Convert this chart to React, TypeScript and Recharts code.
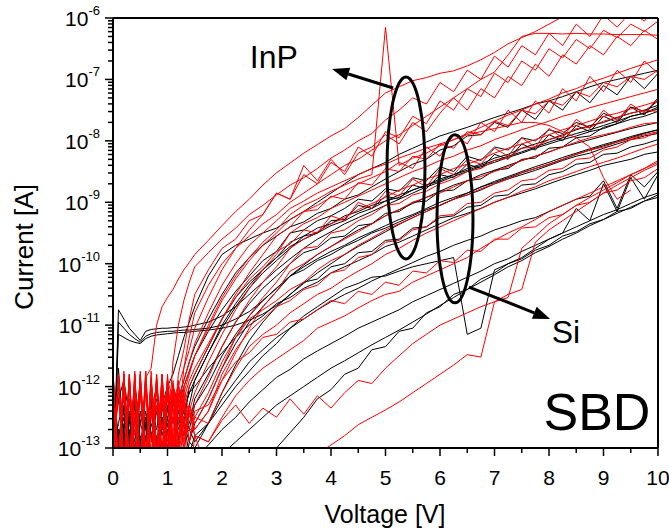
import React from 'react'
import { LineChart, Line, XAxis, YAxis, ReferenceDot, ReferenceLine } from 'recharts'

// Voltage grid (V): fine steps in the noisy low-bias part, 0.25 V after that
const VOLTS = [
  0, 0.1, 0.2, 0.3, 0.4, 0.5, 0.6, 0.7, 0.8, 0.9, 1, 1.1, 1.2, 1.3, 1.4, 1.5,
  1.75, 2, 2.25, 2.5, 2.75, 3, 3.25, 3.5, 3.75, 4, 4.25, 4.5, 4.75, 5, 5.25, 5.5, 5.75,
  6, 6.25, 6.5, 6.75, 7, 7.25, 7.5, 7.75, 8, 8.25, 8.5, 8.75, 9, 9.25, 9.5, 9.75, 10,
]

// InP devices, log10(I [A])
const inp01 = [-11.8,-13.5,-11.9,-13.6,-12.0,-13.3,-11.85,-11.7,-11.0,-10.7,-10.55,-10.42,-10.25,-10.1,-9.98,-9.85,
  -9.62,-9.38,-9.15,-8.95,-8.72,-8.52,-8.36,-8.2,-8.06,-7.92,-7.8,-7.62,-7.42,-7.22,-7.12,-7.02,-6.97,-6.9,-6.86,-6.78,-6.68,-6.56,-6.42,-6.32,-6.22,-6.1,-5.98,-5.9,-5.85,-5.8,-5.75,-5.7,-5.65,-5.6]
const inp02 = [-13.6,-11.8,-13.4,-11.9,-13.7,-11.75,-13.2,-11.9,-13.5,-11.8,-12.9,-11.6,-11.0,-10.6,-10.3,-10.05,
  -9.82,-9.6,-9.42,-9.2,-9.05,-8.88,-8.72,-8.6,-8.45,-8.28,-8.15,-8.0,-7.88,-7.66,-7.5,-7.3,-7.4,-7.05,-7.2,-6.85,-7.0,-6.62,-6.8,-6.45,-6.6,-6.25,-6.45,-6.1,-6.3,-5.95,-6.15,-5.9,-6.05,-5.8]
const inp03 = [-11.9,-13.3,-11.75,-13.8,-11.85,-13.4,-11.9,-13.6,-11.8,-13.0,-11.9,-12.8,-11.8,-11.4,-10.9,-10.5,
  -10.1,-9.75,-9.6,-9.3,-9.2,-8.85,-8.95,-8.55,-8.7,-8.35,-8.5,-8.1,-8.25,-7.85,-7.95,-7.6,-7.72,-7.35,-7.5,-7.15,-7.28,-6.9,-7.05,-6.7,-6.85,-6.5,-6.65,-6.35,-6.5,-6.2,-6.32,-6.1,-6.22,-6.05]
const inp04 = [-13.4,-11.85,-13.2,-11.8,-13.9,-11.9,-13.4,-11.75,-13.6,-12.0,-13.1,-11.9,-12.6,-11.7,-11.2,-10.8,
  -10.35,-10.0,-9.75,-9.55,-9.35,-9.2,-9.0,-8.85,-8.7,-8.55,-8.4,-8.3,-8.15,-8.0,-7.9,-7.75,-7.6,-7.45,-7.3,-7.15,-7.0,-6.88,-6.6,-6.3,-6.25,-6.25,-6.26,-6.25,-6.26,-6.26,-6.27,-6.27,-6.27,-6.28]
const inp05 = [-11.75,-13.7,-11.9,-13.3,-11.8,-13.6,-11.95,-13.5,-11.85,-13.2,-11.9,-13.0,-12.6,-12.0,-11.75,-11.5,
  -11.0,-10.55,-10.2,-9.9,-9.65,-9.45,-9.2,-9.05,-8.95,-8.82,-8.72,-8.62,-8.55,-6.15,-8.4,-8.28,-8.2,-8.08,-7.98,-7.88,-7.78,-7.68,-7.58,-7.5,-7.4,-7.32,-7.22,-7.15,-7.05,-6.98,-6.9,-6.82,-6.75,-6.68]
const inp06 = [-13.2,-11.9,-13.5,-11.8,-13.3,-11.85,-13.8,-11.9,-13.0,-11.8,-13.4,-12.0,-12.8,-12.2,-11.9,-11.7,
  -11.3,-10.9,-10.5,-10.15,-9.85,-9.55,-9.4,-9.15,-9.12,-8.9,-8.95,-8.68,-8.72,-8.45,-8.5,-8.25,-8.3,-8.05,-8.12,-7.85,-7.9,-7.68,-7.75,-7.5,-7.56,-7.35,-7.42,-7.2,-7.28,-7.05,-7.12,-6.95,-7.0,-6.85]
const inp07 = [-11.85,-13.4,-11.8,-13.7,-11.9,-13.2,-11.75,-13.5,-11.9,-13.3,-11.85,-13.1,-12.0,-12.6,-12.4,-12.1,
  -11.6,-11.15,-10.75,-10.4,-10.1,-9.85,-9.5,-9.35,-9.25,-9.1,-9.0,-8.9,-8.8,-8.7,-8.6,-8.5,-8.42,-8.32,-8.25,-8.15,-8.08,-7.98,-7.9,-7.82,-7.75,-7.68,-7.6,-7.54,-7.46,-7.4,-7.34,-7.28,-7.22,-7.16]
const inp08 = [-13.5,-11.8,-13.3,-11.95,-13.6,-11.85,-13.1,-11.9,-13.7,-11.8,-13.2,-11.95,-13.0,-12.0,-12.5,-12.3,
  -11.85,-11.35,-10.95,-10.6,-10.3,-10.05,-9.75,-9.6,-9.48,-9.35,-9.25,-9.12,-9.02,-8.92,-8.8,-8.72,-8.62,-8.55,-8.45,-8.38,-8.3,-8.2,-8.12,-8.05,-7.98,-7.9,-7.82,-7.75,-7.68,-7.6,-7.55,-7.48,-7.42,-7.35]
const inp09 = [-11.8,-13.6,-11.85,-13.2,-11.75,-13.5,-11.9,-13.4,-11.8,-13.8,-12.0,-13.1,-11.9,-12.8,-12.3,-12.5,
  -12.1,-11.6,-11.2,-10.85,-10.55,-10.3,-10.0,-9.75,-9.72,-9.5,-9.45,-9.3,-9.2,-9.05,-9.02,-8.88,-8.82,-8.7,-8.62,-8.5,-8.45,-8.32,-8.28,-8.12,-8.1,-7.98,-7.92,-7.8,-7.78,-7.68,-7.62,-7.55,-7.5,-7.52]
const inp10 = [-13.3,-11.9,-13.6,-11.8,-13.4,-11.95,-13.7,-11.85,-13.2,-11.9,-13.5,-12.0,-13.0,-12.1,-12.7,-12.7,
  -12.4,-11.9,-11.45,-11.05,-10.7,-10.45,-10.12,-10.0,-9.85,-9.72,-9.6,-9.48,-9.35,-9.22,-9.12,-9.0,-8.92,-8.85,-8.75,-8.65,-8.58,-8.5,-8.42,-8.32,-8.25,-8.18,-8.1,-8.02,-7.95,-7.9,-7.85,-7.78,-7.72,-7.7]
const inp11 = [-11.9,-13.2,-11.8,-13.5,-11.9,-13.8,-11.85,-13.3,-11.95,-13.6,-12.0,-13.2,-12.1,-12.9,-12.4,-12.6,
  -12.2,-11.7,-11.2,-10.9,-10.75,-10.6,-10.42,-10.3,-10.1,-9.95,-9.85,-9.7,-9.58,-9.45,-9.35,-9.25,-9.15,-9.05,-8.95,-8.88,-8.78,-8.7,-8.62,-8.52,-8.45,-8.38,-8.3,-8.22,-8.15,-8.1,-8.02,-7.96,-7.9,-7.85]
const inp12 = [-13.7,-11.85,-13.4,-11.9,-13.3,-11.8,-13.6,-11.9,-13.5,-12.0,-13.4,-12.1,-13.1,-12.3,-12.9,-12.5,
  -12.6,-12.1,-11.7,-11.35,-11.15,-11.0,-10.8,-10.65,-10.5,-10.4,-10.25,-10.12,-10.0,-9.85,-9.75,-9.62,-9.5,-9.4,-9.3,-9.2,-9.1,-9.0,-8.92,-8.82,-8.75,-8.65,-8.58,-8.5,-8.42,-8.35,-8.28,-8.2,-8.12,-8.05]
const inp13 = [-11.85,-13.5,-11.9,-13.4,-11.8,-13.7,-11.95,-13.2,-11.9,-13.5,-12.1,-13.3,-12.2,-13.0,-12.4,-12.8,
  -12.9,-12.5,-12.15,-11.9,-11.7,-11.55,-11.4,-11.25,-11.05,-10.95,-10.85,-10.72,-10.6,-10.5,-10.45,-10.3,-10.2,-10.1,-10.0,-9.9,-9.75,-9.62,-9.5,-9.4,-9.28,-9.15,-9.05,-8.95,-8.85,-8.75,-8.65,-8.55,-8.45,-8.35]
const inp14 = [-13.3,-11.9,-13.6,-11.85,-13.5,-11.9,-13.8,-12.0,-13.4,-12.1,-13.6,-12.3,-13.5,-12.5,-13.6,-12.8,
  -13.4,-13.6,-13.5,-13.8,-13.6,-13.5,-13.4,-13.3,-13.1,-12.95,-12.8,-12.62,-12.5,-12.38,-12.25,-12.1,-11.95,-11.8,-11.65,-11.48,-11.52,-10.62,-10.5,-10.42,-9.65,-9.45,-9.3,-9.15,-9.0,-8.85,-8.72,-8.6,-8.48,-8.38]
const inp15 = [-11.9,-13.6,-11.8,-13.4,-11.95,-13.3,-11.85,-13.7,-12.0,-13.2,-12.1,-13.5,-12.2,-13.1,-12.4,-12.8,
  -12.9,-12.55,-12.3,-12.6,-12.35,-12.5,-12.2,-12.45,-12.15,-12.35,-12.1,-11.9,-11.95,-11.7,-11.5,-11.3,-11.15,-11.0,-10.9,-10.8,-10.7,-10.62,-10.55,-9.75,-9.55,-9.35,-9.2,-9.05,-8.92,-8.8,-8.68,-8.55,-8.45,-8.32]
const inp16 = [-13.4,-11.8,-13.7,-11.9,-13.2,-11.85,-13.5,-11.9,-13.3,-12.0,-13.6,-12.0,-13.1,-12.2,-12.9,-12.4,
  -12.3,-11.9,-11.6,-11.45,-11.2,-11.15,-10.95,-10.9,-10.75,-10.6,-10.65,-10.45,-10.5,-10.3,-10.35,-10.12,-10.15,-9.95,-9.98,-9.78,-9.8,-9.6,-9.6,-9.42,-9.4,-9.25,-9.2,-9.05,-9.0,-8.85,-8.8,-8.65,-8.6,-8.45]
const inp17 = [-11.95,-13.3,-11.8,-13.6,-11.9,-13.5,-11.75,-13.2,-11.9,-13.4,-11.8,-12.9,-12.2,-11.9,-11.6,-11.3,
  -10.8,-10.35,-10.0,-9.7,-9.5,-9.3,-9.1,-8.98,-8.85,-8.75,-8.65,-8.55,-8.45,-8.38,-8.28,-8.2,-8.12,-8.05,-7.98,-7.9,-7.85,-7.8,-7.75,-7.7,-7.7,-7.75,-7.85,-7.95,-8.1,-8.6,-8.95,-8.8,null,null]
const inp18 = [-13.5,-11.9,-13.3,-11.85,-13.6,-11.8,-13.4,-11.9,-13.1,-11.85,-13.3,-12.0,-12.4,-12.1,-11.8,-11.5,
  -11.05,-10.6,-10.25,-9.95,-9.7,-9.5,-9.28,-9.15,-9.05,-8.92,-8.82,-8.7,-8.6,-8.5,-8.35,-8.45,-8.1,-8.25,-7.9,-8.05,-7.7,-7.85,-7.5,-7.7,-7.35,-7.55,-7.15,-7.35,-6.95,-7.2,-6.85,-7.05,-6.7,-6.9]
const inp19 = [-12.2,-13.4,-11.95,-13.1,-12.4,-13.6,-12.0,-12.9,-12.3,-13.3,-12.1,-12.6,-12.0,-12.3,-12.0,-11.8,
  -11.35,-10.9,-10.55,-10.25,-10.05,-9.8,-9.68,-9.45,-9.5,-9.22,-9.3,-9.0,-9.1,-8.82,-8.9,-8.62,-8.75,-8.45,-8.55,-8.3,-8.38,-8.12,-8.25,-7.95,-8.1,-7.8,-7.95,-7.65,-7.8,-7.5,-7.68,-7.4,-7.55,-7.3]
const inp20 = [-13.1,-12.0,-13.5,-12.2,-12.8,-11.9,-13.2,-12.4,-12.0,-12.7,-11.9,-12.2,-12.0,-11.7,-11.4,-11.05,
  -10.55,-10.1,-9.75,-9.45,-9.2,-8.85,-8.95,-8.4,-8.65,-8.3,-8.55,-8.2,-8.1,-7.9,-8.05,-7.7,-7.85,-7.55,-7.3,-7.5,-7.15,-7.3,-6.95,-7.1,-6.75,-6.95,-6.6,-6.75,-6.45,-6.6,-6.3,-6.45,-6.2,-6.35]
const inp21 = [-12.6,-13.2,-12.0,-13.7,-12.5,-12.1,-13.0,-12.4,-13.4,-12.2,-12.8,-12.5,-13.1,-12.6,-12.3,-12.7,
  -12.4,-11.8,-11.4,-11.1,-10.9,-10.7,-10.6,-10.42,-10.35,-10.15,-10.1,-9.9,-9.85,-9.65,-9.62,-9.45,-9.4,-9.22,-9.2,-9.02,-9.0,-8.85,-8.8,-8.65,-8.62,-8.48,-8.45,-8.3,-8.28,-8.15,-8.1,-7.98,-7.95,-7.85]

// Si devices, log10(I [A])
const si00 = [-12.9,-12.2,-11.9,-12.5,-13.2,-12.1,-12.7,-12.4,-13.0,-12.3,-12.0,-11.8,-11.5,-11.2,-10.95,-10.7,
  -10.2,-9.85,-9.7,-9.6,-9.5,-9.42,-9.28,-9.15,-9.0,-8.85,-8.7,-8.55,-8.45,-8.35,-8.22,-8.12,-8.02,-7.92,-7.85,-7.78,-7.7,-7.62,-7.55,-7.48,-7.4,-7.35,-7.28,-7.2,-7.12,-7.05,-7.0,-6.95,-6.9,-6.85]
const si01 = [-13.6,-10.75,-10.9,-11.05,-11.15,-11.25,-11.1,-11.07,-11.06,-11.05,-11.05,-11.04,-11.04,-11.03,-11.02,-11.0,
  -10.95,-10.85,-10.7,-10.5,-10.3,-10.1,-9.92,-9.75,-9.6,-9.48,-9.35,-9.25,-9.15,-9.05,-8.95,-8.85,-8.75,-8.67,-8.58,-8.5,-8.42,-8.35,-8.27,-8.2,-8.12,-8.05,-7.98,-7.92,-7.85,-7.8,-7.72,-7.65,-7.6,-7.52]
const si02 = [-13.8,-10.95,-11.05,-11.15,-11.22,-11.28,-11.18,-11.14,-11.12,-11.11,-11.1,-11.1,-11.09,-11.08,-11.08,-11.07,
  -11.05,-11.0,-10.9,-10.78,-10.6,-10.4,-10.2,-10.02,-9.85,-9.72,-9.58,-9.45,-9.35,-9.22,-9.12,-9.02,-8.92,-8.82,-8.72,-8.65,-8.55,-8.48,-8.4,-8.32,-8.25,-8.18,-8.1,-8.04,-7.98,-7.92,-7.86,-7.8,-7.75,-7.7]
const si03 = [-13.5,-11.15,-11.2,-11.25,-11.28,-11.3,-11.22,-11.18,-11.16,-11.15,-11.14,-11.13,-11.12,-11.12,-11.11,-11.1,
  -11.08,-11.05,-11.0,-10.92,-10.82,-10.68,-10.5,-10.32,-10.15,-10.0,-9.85,-9.72,-9.6,-9.48,-9.36,-9.25,-9.15,-9.05,-8.95,-8.85,-8.75,-8.66,-8.58,-8.5,-8.42,-8.35,-8.27,-8.2,-8.13,-8.06,-8.0,-7.93,-7.87,-7.82]
const si04 = [-12.5,-13.1,-12.0,-12.8,-12.3,-13.4,-12.6,-12.2,-12.9,-12.4,-12.1,-12.6,-12.3,-12.0,-11.75,-11.5,
  -11.1,-10.75,-10.45,-10.2,-9.95,-9.8,-9.5,-9.45,-9.3,-9.22,-9.1,-8.95,-8.98,-8.78,-8.82,-8.6,-8.65,-8.42,-8.5,-8.25,-8.32,-8.1,-8.15,-7.95,-8.0,-7.82,-7.88,-7.7,-7.78,-7.55,-7.65,-7.45,-7.52,-7.35]
const si05 = [-13.0,-11.7,-12.9,-12.2,-13.3,-12.6,-12.1,-12.8,-12.4,-13.1,-12.5,-12.2,-12.6,-12.4,-12.1,-11.9,
  -11.45,-11.0,-10.65,-10.35,-10.1,-9.9,-9.65,-9.55,-9.42,-9.35,-9.22,-9.15,-9.05,-8.98,-8.88,-8.8,-8.72,-8.65,-8.55,-8.48,-8.4,-8.32,-8.25,-8.18,-8.1,-8.02,-7.95,-7.88,-7.82,-7.75,-7.68,-7.6,-7.55,-7.48]
const si06 = [-12.7,-12.2,-13.0,-12.5,-12.1,-12.9,-13.3,-12.4,-12.0,-12.7,-12.3,-12.9,-12.4,-12.5,-12.6,-12.2,
  -11.8,-11.35,-10.95,-10.65,-10.4,-10.2,-10.0,-9.82,-9.75,-9.58,-9.55,-9.38,-9.35,-9.18,-9.15,-9.0,-8.98,-8.82,-8.8,-8.65,-8.62,-8.48,-8.45,-8.3,-8.28,-8.12,-8.1,-7.95,-7.92,-7.78,-7.72,-7.6,-7.55,-7.45]
const si07 = [-11.8,-12.9,-12.5,-13.2,-12.0,-12.6,-12.9,-12.3,-12.7,-12.2,-13.0,-12.5,-12.8,-12.6,-12.9,-12.6,
  -12.2,-11.7,-11.3,-10.95,-10.7,-10.45,-10.2,-10.05,-9.92,-9.8,-9.7,-9.58,-9.48,-9.38,-9.28,-9.2,-9.1,-9.0,-8.92,-8.85,-8.75,-8.68,-8.6,-8.52,-8.45,-8.38,-8.3,-8.22,-8.15,-8.08,-8.02,-7.95,-7.88,-7.82]
const si08 = [-13.1,-12.6,-12.2,-12.9,-12.5,-13.0,-12.4,-12.8,-13.3,-12.6,-12.3,-12.9,-12.5,-12.8,-12.7,-12.9,
  -12.6,-12.1,-11.65,-11.25,-10.95,-10.7,-10.5,-10.3,-10.25,-10.05,-10.0,-9.82,-9.8,-9.62,-9.6,-9.42,-9.4,-9.25,-9.22,-9.08,-9.05,-8.9,-8.88,-8.72,-8.7,-8.55,-8.5,-8.38,-8.35,-8.22,-8.2,-8.1,-8.05,-7.98]
const si09 = [-13.4,-12.8,-13.1,-12.5,-13.5,-12.9,-12.6,-13.2,-12.8,-13.0,-12.7,-13.3,-12.9,-12.6,-13.1,-12.8,
  -12.6,-12.3,-12.0,-11.75,-11.5,-11.3,-11.05,-10.85,-10.7,-10.55,-10.4,-10.32,-10.22,-10.2,-10.12,-10.05,-10.0,-9.95,-9.9,-11.15,-11.05,-10.1,-10.0,-9.9,-9.75,-9.6,-9.5,-9.1,-9.3,-8.7,-9.15,-8.6,-8.95,-8.55]
const si10 = [-12.9,-13.4,-12.6,-13.1,-12.7,-13.5,-13.0,-12.8,-13.3,-12.9,-13.6,-13.1,-12.9,-13.4,-13.0,-13.2,
  -12.95,-12.7,-12.5,-12.25,-12.05,-11.85,-11.72,-11.55,-11.42,-11.3,-11.18,-11.05,-10.95,-10.85,-10.75,-10.62,-10.52,-10.42,-10.32,-10.22,-10.12,-10.0,-9.92,-9.8,-9.7,-9.6,-9.5,-9.4,-9.3,-9.2,-9.12,-9.02,-8.92,-8.85]
const si11 = [-13.6,-13.0,-13.4,-12.9,-13.5,-13.1,-13.7,-13.2,-13.5,-13.0,-13.6,-13.3,-13.5,-13.2,-13.6,-13.4,
  -13.3,-13.1,-12.9,-12.7,-12.5,-12.3,-12.15,-12.0,-11.85,-11.7,-11.58,-11.45,-11.32,-11.2,-11.08,-10.95,-10.82,-10.68,-10.55,-10.42,-10.3,-10.18,-10.05,-9.95,-9.82,-9.72,-9.6,-9.5,-9.38,-9.28,-9.18,-9.08,-8.98,-8.88]
const si12 = [-13.8,-13.5,-13.9,-13.4,-13.7,-13.6,-13.9,-13.5,-13.8,-13.6,-13.9,-13.5,-13.7,-13.8,-13.6,-13.9,
  -13.8,-13.9,-13.7,-13.5,-13.3,-13.0,-12.75,-12.5,-12.2,-12.05,-11.8,-11.7,-11.4,-11.35,-11.1,-11.05,-10.8,-10.7,-10.5,-10.42,-10.25,-10.15,-10.0,-9.92,-9.78,-9.7,-9.55,-9.48,-9.35,-9.28,-9.15,-9.1,-8.98,-8.92]
const si13 = [-13.2,-12.7,-13.0,-12.4,-12.9,-13.3,-12.6,-12.3,-12.9,-12.5,-12.8,-12.2,-12.7,-12.4,-12.1,-12.0,
  -11.7,-11.45,-11.2,-11.0,-10.85,-10.65,-10.55,-10.4,-10.3,-10.15,-10.05,-9.95,-9.85,-9.72,-9.65,-9.55,-9.45,-9.35,-9.25,-9.18,-9.1,-9.0,-8.92,-8.85,-8.78,-8.7,-8.62,-8.55,-8.48,-8.4,-8.35,-8.3,-8.22,-8.18]
const si14 = [-13.5,-12.9,-13.3,-12.7,-13.6,-13.0,-12.8,-13.4,-12.9,-13.2,-12.6,-13.1,-12.8,-13.5,-12.9,-13.0,
  -12.6,-12.2,-11.9,-11.6,-11.4,-11.2,-11.05,-10.9,-10.75,-10.62,-10.5,-10.4,-10.28,-10.18,-10.08,-9.98,-9.88,-9.8,-9.7,-9.62,-9.55,-9.45,-9.38,-9.3,-9.25,-9.15,-9.05,-8.95,-8.9,-8.65,-9.1,-8.55,-8.75,-8.5]
const si15 = [-12.2,-12.8,-12.4,-13.0,-12.6,-12.1,-12.9,-12.5,-12.2,-12.8,-12.4,-12.0,-12.3,-12.6,-12.0,-11.8,
  -11.35,-10.9,-10.55,-10.3,-10.1,-9.9,-9.72,-9.6,-9.5,-9.38,-9.3,-9.18,-9.1,-8.98,-8.92,-8.8,-8.72,-8.62,-8.55,-8.45,-8.38,-8.28,-8.22,-8.12,-8.05,-7.98,-7.9,-7.82,-7.75,-7.7,-7.62,-7.55,-7.5,-7.42]
const si16 = [-12.6,-13.2,-12.3,-12.8,-13.5,-12.4,-12.9,-12.2,-13.1,-12.5,-12.8,-12.3,-12.4,-12.8,-12.3,-11.9,
  -11.45,-11.05,-10.7,-10.4,-10.15,-9.95,-9.75,-9.55,-9.5,-9.3,-9.28,-9.05,-9.1,-8.9,-8.95,-8.72,-8.78,-8.55,-8.6,-8.38,-8.45,-8.22,-8.3,-8.05,-8.15,-7.9,-8.0,-7.75,-7.85,-7.6,-7.7,-7.45,-7.58,-7.3]
const si17 = [-13.3,-12.7,-13.6,-12.5,-13.0,-12.8,-13.4,-12.6,-12.9,-13.2,-12.5,-12.9,-12.6,-12.4,-12.7,-12.3,
  -11.95,-11.5,-11.15,-10.85,-10.6,-10.4,-10.2,-10.1,-9.95,-9.85,-9.72,-9.62,-9.5,-9.42,-9.32,-9.22,-9.12,-9.05,-8.95,-8.88,-8.8,-8.7,-8.62,-8.55,-8.48,-8.4,-8.32,-8.25,-8.2,-8.12,-8.05,-7.98,-7.92,-7.88]
const si18 = [-12.4,-13.0,-12.7,-13.4,-12.2,-12.9,-12.5,-13.2,-12.3,-12.7,-12.1,-12.4,-12.2,-11.9,-11.6,-11.35,
  -10.9,-10.5,-10.15,-9.9,-9.7,-9.55,-9.4,-9.32,-9.18,-9.1,-8.95,-8.88,-8.75,-8.62,-8.5,-8.38,-8.3,-8.15,-8.08,-7.92,-7.9,-7.7,-7.78,-7.5,-7.65,-7.35,-7.5,-7.2,-7.38,-7.1,-7.25,-6.95,-7.15,-6.9]

const INP = [inp01, inp02, inp03, inp04, inp05, inp06, inp07, inp08, inp09, inp10, inp11, inp12, inp13, inp14, inp15, inp16, inp17, inp18, inp19, inp20, inp21]
const SI = [si00, si01, si02, si03, si04, si05, si06, si07, si08, si09, si10, si11, si12, si13, si14, si15, si16, si17, si18]

const X_TICKS = [0, 0.5, 1, 1.5, 2, 2.5, 3, 3.5, 4, 4.5, 5, 5.5, 6, 6.5, 7, 7.5, 8, 8.5, 9, 9.5, 10]
const Y_DECADES = [-13, -12, -11, -10, -9, -8, -7, -6]

// annotations: [voltage, log10 current]
const INP_LABEL = [2.95, -6.81]
const SI_LABEL = [8.31, -11.29]
const SBD_LABEL = [8.88, -12.71]
const INP_ELLIPSE = [5.376, -8.44]
const SI_ELLIPSE = [6.275, -9.27]
const INP_ARROW = [[5.14, -7.14], [4.02, -6.83]]
const SI_ARROW = [[6.53, -10.38], [8.02, -10.9]]

const FONT = '"Liberation Sans", Arial, Helvetica, sans-serif'
const RED = '#ff0000'

const rows = VOLTS.map((v, i) => {
  const r: Record<string, number | null> = { v }
  SI.forEach((s, k) => (r['si' + k] = s[i] == null ? null : Math.pow(10, s[i] as number)))
  INP.forEach((s, k) => (r['inp' + k] = s[i] == null ? null : Math.pow(10, s[i] as number)))
  return r
})

const yTicks: number[] = []
Y_DECADES.forEach((d) => {
  if (d === -6) return yTicks.push(1e-6)
  for (let k = 1; k < 10; k++) yTicks.push(k * Math.pow(10, d))
})

function YTick(props: any) {
  const { x, y, payload } = props
  const lg = Math.log10(payload.value)
  const e = Math.round(lg)
  const major = Math.abs(lg - e) < 1e-6
  return (
    <g>
      <line x1={x} x2={x - (major ? 8 : 5)} y1={y} y2={y} stroke="#000" strokeWidth={1.5} />
      {major && (
        <text x={x - 13} y={y + 8} textAnchor="end" fontFamily={FONT} fill="#000">
          <tspan fontSize={21}>10</tspan>
          <tspan fontSize={13} dy={-11}>{e}</tspan>
        </text>
      )}
    </g>
  )
}

function XTick(props: any) {
  const { x, y, payload } = props
  const major = Number.isInteger(payload.value)
  return (
    <g>
      <line x1={x} x2={x} y1={y} y2={y + (major ? 8 : 5)} stroke="#000" strokeWidth={1.5} />
      {major && (
        <text x={x} y={y + 37} textAnchor="middle" fontFamily={FONT} fontSize={21} fill="#000">
          {payload.value}
        </text>
      )}
    </g>
  )
}

const arrow = (p: any) => {
  const { x1, y1, x2, y2 } = p
  const a = Math.atan2(y2 - y1, x2 - x1)
  const bx = x2 - 17 * Math.cos(a)
  const by = y2 - 17 * Math.sin(a)
  const w = 6.5
  const pts = `${x2},${y2} ${bx + w * Math.sin(a)},${by - w * Math.cos(a)} ${bx - w * Math.sin(a)},${by + w * Math.cos(a)}`
  return (
    <g>
      <line x1={x1} y1={y1} x2={bx} y2={by} stroke="#000" strokeWidth={3} />
      <polygon points={pts} fill="#000" />
    </g>
  )
}

const label = (txt: string, size: number) => (p: any) => (
  <text x={p.cx} y={p.cy} textAnchor="middle" fontFamily={FONT} fontSize={size} fill="#000">
    {txt}
  </text>
)

const ellipse = (rx: number, ry: number) => (p: any) => (
  <ellipse cx={p.cx} cy={p.cy} rx={rx} ry={ry} fill="none" stroke="#000" strokeWidth={3} />
)

const pt = (a: number[]) => ({ x: a[0], y: Math.pow(10, a[1]) })

export default function App() {
  return (
    <div style={{ position: 'absolute', left: 0, top: 0, width: 669, height: 531, background: '#fff' }}>
      <LineChart width={669} height={531} data={rows} margin={{ top: 18, right: 11, bottom: 0, left: 0 }}>
        <XAxis
          dataKey="v"
          type="number"
          domain={[0, 10]}
          ticks={X_TICKS}
          interval={0}
          tick={<XTick />}
          tickLine={false}
          tickSize={0}
          tickMargin={0}
          height={83}
          axisLine={{ stroke: '#000', strokeWidth: 2 }}
        />
        <YAxis
          type="number"
          scale="log"
          domain={[1e-13, 1e-6]}
          allowDataOverflow
          ticks={yTicks}
          interval={0}
          tick={<YTick />}
          tickLine={false}
          tickSize={0}
          tickMargin={0}
          width={113}
          axisLine={{ stroke: '#000', strokeWidth: 2 }}
        />
        {SI.map((_, k) => (
          <Line key={'si' + k} dataKey={'si' + k} stroke="#000" strokeWidth={1} dot={false} isAnimationActive={false} />
        ))}
        {INP.map((_, k) => (
          <Line key={'inp' + k} dataKey={'inp' + k} stroke={RED} strokeWidth={1} dot={false} isAnimationActive={false} />
        ))}
        <ReferenceLine y={1e-6} stroke="#000" strokeWidth={2} />
        <ReferenceLine x={10} stroke="#000" strokeWidth={2} />
        <ReferenceDot {...pt(INP_ELLIPSE)} shape={ellipse(19, 91)} />
        <ReferenceDot {...pt(SI_ELLIPSE)} shape={ellipse(18, 84)} />
        <ReferenceLine segment={INP_ARROW.map(pt)} shape={arrow} />
        <ReferenceLine segment={SI_ARROW.map(pt)} shape={arrow} />
        <ReferenceDot {...pt(INP_LABEL)} shape={label('InP', 32)} />
        <ReferenceDot {...pt(SI_LABEL)} shape={label('Si', 32)} />
        <ReferenceDot {...pt(SBD_LABEL)} shape={label('SBD', 52)} />
      </LineChart>
      <svg width={669} height={531} style={{ position: 'absolute', left: 0, top: 0, pointerEvents: 'none' }}>
        <text x={385} y={523} textAnchor="middle" fontFamily={FONT} fontSize={25} fill="#000">
          Voltage [V]
        </text>
        <text x={33} y={247} transform="rotate(-90 33 247)" textAnchor="middle" fontFamily={FONT} fontSize={26} fill="#000">
          Current [A]
        </text>
      </svg>
    </div>
  )
}
